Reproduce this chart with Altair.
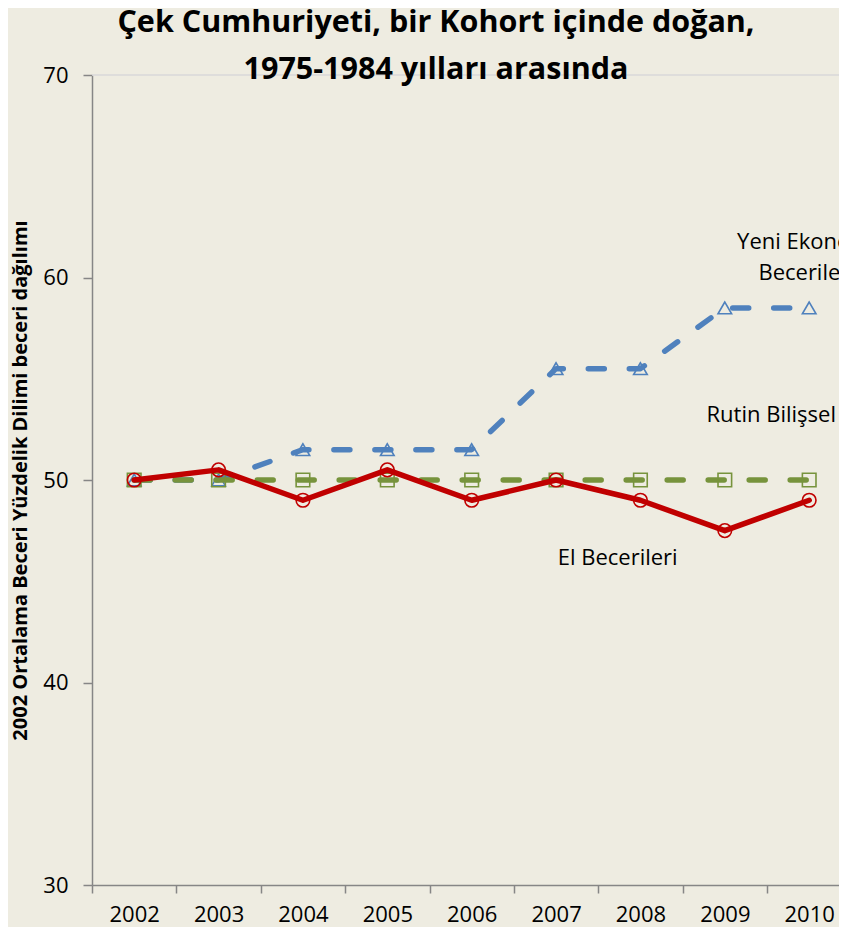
import altair as alt
import pandas as pd

# ---- data ----
years = [2002, 2003, 2004, 2005, 2006, 2007, 2008, 2009, 2010]
yeni_ekonomi = [50, 50, 51.5, 51.5, 51.5, 55.5, 55.5, 58.5, 58.5]
rutin_bilissel = [50, 50, 50, 50, 50, 50, 50, 50, 50]
el_becerileri = [50, 50.5, 49, 50.5, 49, 50, 49, 47.5, 49]

series_names = ["Yeni Ekonomi Becerileri", "Rutin Bilişsel", "El Becerileri"]
series_values = [yeni_ekonomi, rutin_bilissel, el_becerileri]
series_colors = ["#4F81BD", "#77933C", "#C00000"]
series_shapes = ["triangle-up", "square", "circle"]
series_dashed = [True, True, False]

label_texts = ["Yeni Ekonomi\nBecerileri", "Rutin Bilişsel", "El Becerileri"]
label_years = [2009.97, 2009.55, 2007.73]
label_values = [61.75, 53.2, 46.15]

y_ticks = [30, 40, 50, 60, 70]
title_lines = ["Çek Cumhuriyeti, bir Kohort içinde doğan,", "1975-1984 yılları arasında"]
y_title = "2002 Ortalama Beceri Yüzdelik Dilimi beceri dağılımı"

FONT = "Open Sans"
AXIS_GRAY = "#868686"

rows = []
for name, vals in zip(series_names, series_values):
    for yr, v in zip(years, vals):
        rows.append({"series": name, "year": yr, "value": v})
df = pd.DataFrame(rows)

labels_df = pd.DataFrame({"text": label_texts, "year": label_years, "value": label_values})

step_px = 84.375
plot_w = 747
plot_h = 810
x_domain = [2001.5, 2001.5 + plot_w / step_px]

x_enc = alt.X(
    "year:Q",
    scale=alt.Scale(domain=x_domain, nice=False, zero=False),
    axis=alt.Axis(
        values=[y - 0.5 for y in years],
        labelExpr="format(datum.value + 0.5, 'd')",
        labelOffset=step_px / 2,
        labelFlush=False,
        labelOverlap=False,
        labelBound=False,
        tickSize=8,
        labelPadding=11,
        title=None,
        grid=False,
    ),
)
y_enc = alt.Y(
    "value:Q",
    scale=alt.Scale(domain=[30, 70], nice=False, zero=False),
    axis=alt.Axis(
        values=y_ticks,
        tickSize=9,
        labelPadding=15,
        grid=False,
        title=y_title,
        titleFont=FONT,
        titleFontWeight="bold",
        titleFontSize=20,
        titlePadding=12,
        titleColor="black",
    ),
)

base = alt.Chart(df)

layers = []
# faint top line at 70
layers.append(
    alt.Chart(pd.DataFrame({"v": [70]})).mark_rule(color="#D9D9D9", strokeWidth=1.5).encode(
        y=alt.Y("v:Q", scale=alt.Scale(domain=[30, 70]))
    )
)
for name, color, shape, dashed in zip(series_names, series_colors, series_shapes, series_dashed):
    sub = base.transform_filter(alt.datum.series == name)
    line_kwargs = dict(color=color, strokeWidth=5.5, strokeCap="round", strokeJoin="round")
    if dashed:
        line_kwargs["strokeDash"] = [16, 25]
    layers.append(sub.mark_line(**line_kwargs).encode(x=x_enc, y=y_enc))
    layers.append(
        sub.mark_point(shape=shape, filled=False, stroke=color, strokeWidth=1.6, size=185, opacity=1).encode(
            x=x_enc, y=y_enc
        )
    )

layers.append(
    alt.Chart(labels_df).mark_text(
        font=FONT, fontSize=22, color="black", align="center", baseline="middle",
        lineBreak="\n", lineHeight=31,
    ).encode(x=x_enc, y=y_enc, text="text:N")
)

chart = (
    alt.layer(*layers)
    .properties(
        width=plot_w,
        height=plot_h,
        background="#EEECE1",
        padding={"left": 84, "top": 67, "right": 0, "bottom": 42},
        autosize=alt.AutoSizeParams(type="none"),
        title=alt.TitleParams(
            text=title_lines,
            font=FONT,
            fontSize=30.5,
            fontWeight="bold",
            lineHeight=47,
            anchor="middle",
            dx=-29.5,
            offset=-21,
            color="black",
        ),
    )
    .configure_view(stroke=None)
    .configure_axis(
        domainColor=AXIS_GRAY,
        domainWidth=1.5,
        tickColor=AXIS_GRAY,
        tickWidth=1.5,
        labelFont=FONT,
        labelFontSize=22,
        labelColor="black",
    )
)

chart.save("out.html", embed_options={"renderer": "svg", "actions": False})
